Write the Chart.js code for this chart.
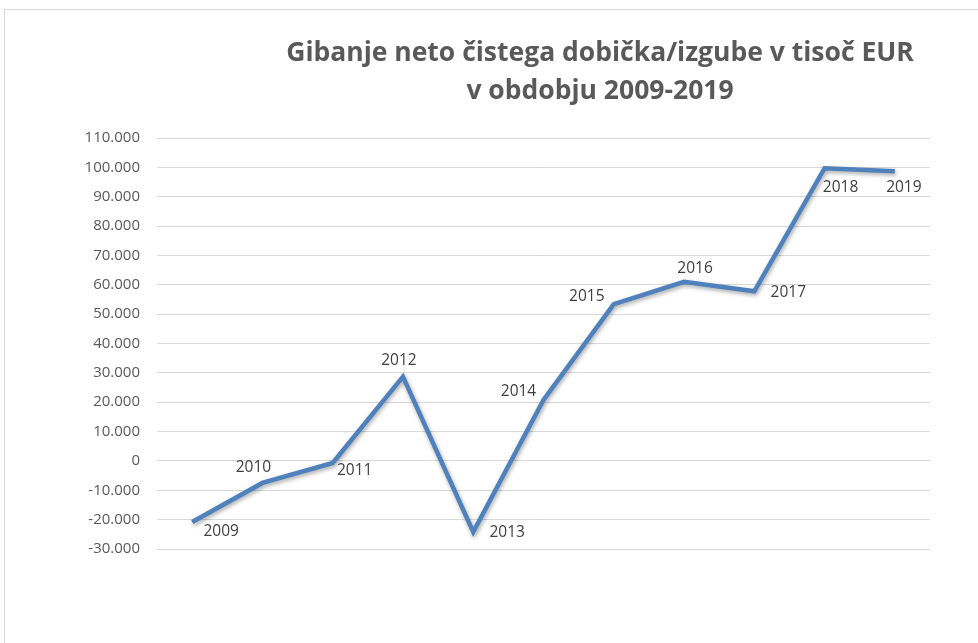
<!DOCTYPE html>
<html>
<head>
<meta charset="utf-8">
<script src="https://cdn.jsdelivr.net/npm/chart.js@4.4.1/dist/chart.umd.min.js"></script>
<style>
  html, body { margin: 0; padding: 0; background: #fff; }
  #wrap { position: relative; width: 978px; height: 643px; overflow: hidden; }
  #frame { position: absolute; left: 4px; top: 9px; width: 1000px; height: 700px;
           border-top: 1px solid #d9d9d9; border-left: 1px solid #d9d9d9; }
  canvas { position: absolute; left: 0; top: 0; }
</style>
</head>
<body>
<div id="wrap">
  <div id="frame"></div>
  <canvas id="chart" width="978" height="643"></canvas>
</div>
<script>
// podatki
const years = ['2009', '2010', '2011', '2012', '2013', '2014', '2015', '2016', '2017', '2018', '2019'];
const profit = [-20800, -7500, -700, 28700, -24200, 20800, 53400, 61000, 57800, 99700, 98700];
const titleLines = ['Gibanje neto čistega dobička/izgube v tisoč EUR', 'v obdobju 2009-2019'];

// odmiki oznak let od točk (slog)
const labelOffsets = [[29, 10], [-9, -15], [22, 8], [-4, -16], [34, 1], [-25, -8], [-27, -8], [11, -13], [34, 1], [16, 19], [9, 16]];

const fmt = v => {
  const s = Math.abs(v).toString().replace(/\B(?=(\d{3})+(?!\d))/g, '.');
  return (v < 0 ? '-' : '') + s;
};

const extras = {
  id: 'extras',
  beforeDatasetsDraw(chart) {
    const ctx = chart.ctx;
    ctx.save();
    ctx.shadowColor = 'rgba(0,0,0,0.35)';
    ctx.shadowBlur = 4;
    ctx.shadowOffsetX = 1;
    ctx.shadowOffsetY = 2;
  },
  afterDatasetsDraw(chart) {
    const ctx = chart.ctx;
    ctx.restore();
    const meta = chart.getDatasetMeta(0);
    ctx.save();
    ctx.font = '15.5px "Open Sans"';
    ctx.fillStyle = '#404040';
    ctx.textAlign = 'center';
    ctx.textBaseline = 'middle';
    meta.data.forEach((p, i) => {
      const o = labelOffsets[i];
      ctx.fillText(years[i], p.x + o[0], p.y + o[1]);
    });
    ctx.restore();
  },
  afterDraw(chart) {
    const ctx = chart.ctx;
    ctx.save();
    ctx.font = 'bold 26.5px "Open Sans"';
    ctx.fillStyle = '#595959';
    ctx.textAlign = 'center';
    ctx.textBaseline = 'middle';
    titleLines.forEach((t, i) => ctx.fillText(t, 600, 53 + i * 38));
    ctx.restore();
  }
};

new Chart(document.getElementById('chart').getContext('2d'), {
  type: 'line',
  data: {
    labels: years,
    datasets: [{
      data: profit,
      borderColor: '#4f81bd',
      borderWidth: 4.5,
      borderJoinStyle: 'miter',
      pointRadius: 0,
      tension: 0,
      fill: false
    }]
  },
  options: {
    responsive: false,
    animation: false,
    layout: { padding: { top: 138, bottom: 94, right: 48, left: 0 } },
    plugins: {
      legend: { display: false },
      title: { display: false },
      tooltip: { enabled: false }
    },
    scales: {
      x: {
        display: false,
        offset: true
      },
      y: {
        min: -30000,
        max: 110000,
        afterFit: s => { s.width = 157; },
        ticks: {
          stepSize: 10000,
          padding: 17,
          color: '#595959',
          font: { family: 'Open Sans', size: 15 },
          callback: v => fmt(v)
        },
        grid: { color: '#d9d9d9', lineWidth: 1, drawTicks: false },
        border: { display: false }
      }
    }
  },
  plugins: [extras]
});
</script>
</body>
</html>
